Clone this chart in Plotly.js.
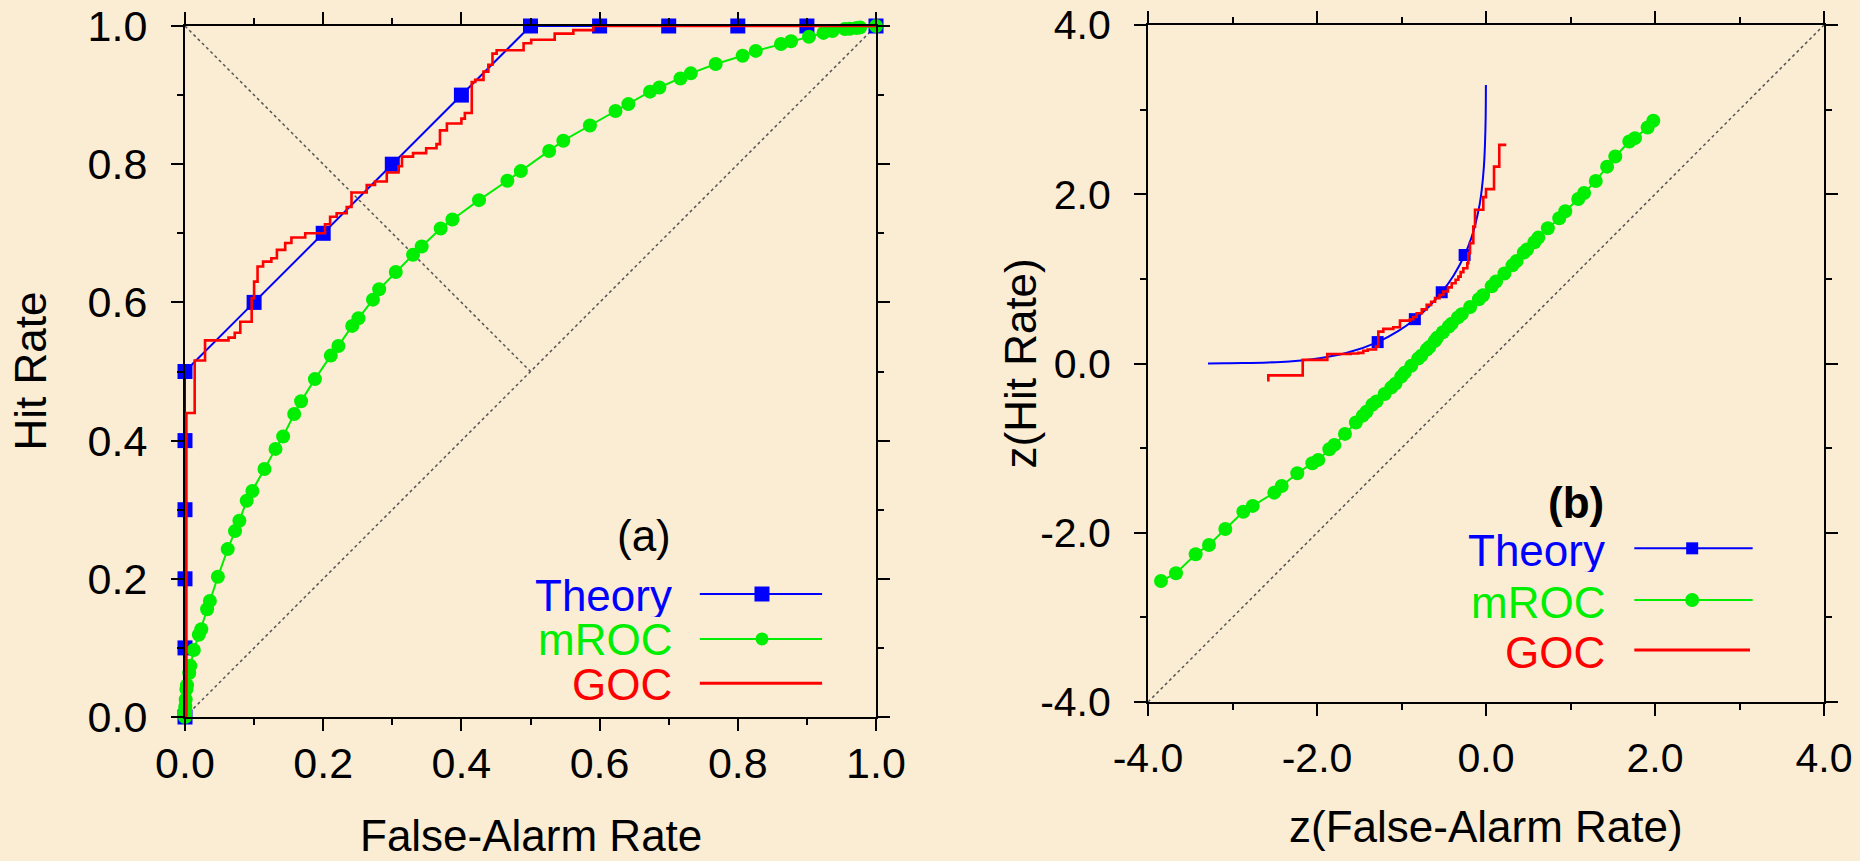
<!DOCTYPE html>
<html>
<head>
<meta charset="utf-8">
<script src="https://cdn.plot.ly/plotly-3.0.1.min.js"></script>
<style>
  html, body { margin: 0; padding: 0; background: #FBEDD3; }
  #chart { width: 1860px; height: 861px; }
</style>
</head>
<body>
<div id="chart"></div>
<script>
// ---------- Panel (a): ROC space ----------
const theoryFA  = [0, 0, 0, 0, 0, 0, 0.1, 0.2, 0.3, 0.4, 0.5, 0.6, 0.7, 0.8, 0.9, 1.0];
const theoryHit = [0, 0.1, 0.2, 0.3, 0.4, 0.5, 0.6, 0.7, 0.8, 0.9, 1.0, 1.0, 1.0, 1.0, 1.0, 1.0];

const mrocFA = [0, 0.00006, 0.00012, 0.0003, 0.0005, 0.001, 0.002, 0.0029, 0.0061, 0.0078, 0.0128,
  0.020, 0.0236, 0.032, 0.036, 0.0476, 0.0618, 0.0724, 0.0787, 0.0893, 0.0975, 0.115, 0.131, 0.142,
  0.158, 0.168, 0.188, 0.211, 0.222, 0.242, 0.251, 0.272, 0.281, 0.305, 0.330, 0.3425, 0.370, 0.387,
  0.4255, 0.4665, 0.486, 0.527, 0.5475, 0.586, 0.623, 0.6416, 0.673, 0.6865, 0.717, 0.732, 0.768,
  0.807, 0.826, 0.8625, 0.877, 0.903, 0.924, 0.937, 0.955, 0.962, 0.972, 0.977, 1.0];
const mrocHit = [0, 0.0051, 0.0066, 0.0121, 0.016, 0.0253, 0.040, 0.046, 0.0635, 0.074, 0.097,
  0.119, 0.127, 0.156, 0.168, 0.203, 0.243, 0.269, 0.284, 0.313, 0.327, 0.359, 0.388, 0.406,
  0.4385, 0.457, 0.489, 0.523, 0.537, 0.566, 0.577, 0.604, 0.619, 0.644, 0.669, 0.681, 0.707, 0.720,
  0.748, 0.776, 0.790, 0.819, 0.834, 0.856, 0.877, 0.887, 0.905, 0.911, 0.924, 0.9315, 0.945,
  0.957, 0.964, 0.974, 0.978, 0.9845, 0.990, 0.9928, 0.9956, 0.996, 0.997, 0.998, 1.0];

const gocFA = [0, 0.002, 0.014, 0.029, 0.063, 0.072, 0.080, 0.0965, 0.100, 0.105, 0.113, 0.125, 0.133,
  0.145, 0.154, 0.174, 0.2026, 0.210, 0.2195, 0.234, 0.241, 0.263, 0.275, 0.292, 0.309, 0.314, 0.330,
  0.349, 0.364, 0.369, 0.379, 0.400, 0.405, 0.415, 0.420, 0.432, 0.439, 0.445, 0.451, 0.490, 0.501,
  0.535, 0.562, 0.591, 1.0];
const gocHit = [0, 0.44, 0.516, 0.545, 0.549, 0.556, 0.572, 0.606, 0.630, 0.652, 0.659, 0.664, 0.676,
  0.686, 0.694, 0.700, 0.713, 0.724, 0.729, 0.738, 0.759, 0.770, 0.775, 0.788, 0.797, 0.811, 0.816,
  0.823, 0.829, 0.849, 0.859, 0.866, 0.874, 0.919, 0.922, 0.934, 0.944, 0.960, 0.965, 0.975, 0.980,
  0.989, 0.994, 1.0, 1.0];

// ---------- Panel (b): z space ----------
const zTheoryFA  = [-3.29, -3.09, -2.878, -2.576, -2.326, -2.054, -1.645, -1.282, -1.036, -0.842, -0.674,
  -0.524, -0.385, -0.253, -0.176, -0.126, -0.075, -0.050, -0.025, -0.0125, -0.004, -0.00125];
const zTheoryHit = [0.00125, 0.0025, 0.005, 0.0125, 0.025, 0.050, 0.126, 0.253, 0.385, 0.524, 0.674,
  0.842, 1.036, 1.282, 1.476, 1.645, 1.881, 2.054, 2.326, 2.576, 2.90, 3.29];
const zTheoryPtFA  = [-1.282, -0.842, -0.524, -0.253];
const zTheoryPtHit = [0.253, 0.524, 0.842, 1.282];

const zMrocFA = [-3.846, -3.669, -3.436, -3.278, -3.085, -2.872, -2.761, -2.505, -2.418, -2.233, -2.055,
  -1.985, -1.854, -1.795, -1.669, -1.540, -1.458, -1.414, -1.345, -1.296, -1.200, -1.122, -1.071,
  -1.003, -0.962, -0.885, -0.803, -0.765, -0.700, -0.671, -0.607, -0.580, -0.510, -0.440, -0.406,
  -0.332, -0.287, -0.188, -0.084, -0.035, 0.068, 0.119, 0.218, 0.313, 0.362, 0.448, 0.486, 0.573,
  0.619, 0.732, 0.867, 0.938, 1.092, 1.161, 1.299, 1.433, 1.530, 1.696, 1.763, 1.913, 1.980];
const zMrocHit = [-2.570, -2.479, -2.254, -2.144, -1.955, -1.751, -1.683, -1.526, -1.447, -1.297, -1.178,
  -1.139, -1.013, -0.962, -0.832, -0.697, -0.616, -0.571, -0.487, -0.448, -0.361, -0.285, -0.238,
  -0.155, -0.108, -0.028, 0.058, 0.093, 0.166, 0.194, 0.264, 0.303, 0.369, 0.437, 0.471,
  0.545, 0.583, 0.668, 0.759, 0.806, 0.912, 0.970, 1.063, 1.160, 1.211, 1.311, 1.347, 1.433,
  1.488, 1.598, 1.717, 1.799, 1.943, 2.014, 2.157, 2.326, 2.446, 2.623, 2.663, 2.789, 2.868];

const zGocFA = [-2.576, -2.576, -2.169, -1.878, -1.60, -1.511, -1.452, -1.40, -1.302, -1.274, -1.215,
  -1.097, -1.018, -0.90, -0.86, -0.82, -0.76, -0.702, -0.65, -0.603, -0.55, -0.505, -0.45, -0.406,
  -0.36, -0.327, -0.30, -0.268, -0.221, -0.209, -0.189, -0.15, -0.13, -0.032, 0.0, 0.095, 0.157, 0.24];
const zGocHit = [-0.214, -0.140, 0.043, 0.113, 0.118, 0.126, 0.150, 0.165, 0.200, 0.377, 0.409,
  0.429, 0.507, 0.523, 0.55, 0.594, 0.64, 0.693, 0.73, 0.772, 0.81, 0.85, 0.90, 0.948,
  0.99, 1.027, 1.08, 1.126, 1.185, 1.303, 1.422, 1.618, 1.816, 1.966, 2.06, 2.327, 2.584, 2.584];

// ---------- Ticks and labels ----------
const rocTickVals = [0, 0.2, 0.4, 0.6, 0.8, 1.0];
const rocTickText = ['0.0', '0.2', '0.4', '0.6', '0.8', '1.0'];
const rocMinorVals = [0.1, 0.3, 0.5, 0.7, 0.9];
const zTickVals = [-4, -2, 0, 2, 4];
const zTickText = ['-4.0', '-2.0', '0.0', '2.0', '4.0'];
const zMinorVals = [-3, -1, 1, 3];
const seriesNames = ['Theory', 'mROC', 'GOC'];
const panelLabels = ['(a)', '(b)'];
const axisTitles = {ax: 'False-Alarm Rate', ay: 'Hit Rate', bx: 'z(False-Alarm Rate)', by: 'z(Hit Rate)'};

const BLUE = '#0000FF', GREEN = '#00EE00', RED = '#FF0000';
const FONT = 'Liberation Sans, Arial, sans-serif';
const W = 1860, H = 861;
const TXT = 44;

const traces = [
  {x: theoryFA, y: theoryHit, xaxis: 'x', yaxis: 'y', mode: 'lines+markers', cliponaxis: false,
   line: {color: BLUE, width: 2}, marker: {symbol: 'square', size: 15, color: BLUE}},
  {x: mrocFA, y: mrocHit, xaxis: 'x', yaxis: 'y', mode: 'lines+markers', cliponaxis: false,
   line: {color: GREEN, width: 2}, marker: {symbol: 'circle', size: 14, color: GREEN}},
  {x: gocFA, y: gocHit, xaxis: 'x', yaxis: 'y', mode: 'lines', cliponaxis: false,
   line: {color: RED, width: 2.6, shape: 'hv'}},

  {x: zTheoryFA, y: zTheoryHit, xaxis: 'x2', yaxis: 'y2', mode: 'lines', cliponaxis: false,
   line: {color: BLUE, width: 2, shape: 'spline'}},
  {x: zTheoryPtFA, y: zTheoryPtHit, xaxis: 'x2', yaxis: 'y2', mode: 'markers', cliponaxis: false,
   marker: {symbol: 'square', size: 12, color: BLUE}},
  {x: zMrocFA, y: zMrocHit, xaxis: 'x2', yaxis: 'y2', mode: 'lines+markers', cliponaxis: false,
   line: {color: GREEN, width: 2}, marker: {symbol: 'circle', size: 14, color: GREEN}},
  {x: zGocFA, y: zGocHit, xaxis: 'x2', yaxis: 'y2', mode: 'lines', cliponaxis: false,
   line: {color: RED, width: 2.6, shape: 'hv'}}
];

function axis(domain, range, tv, tt, mv, fsize, anchor, standoff) {
  return {
    domain: domain, range: range, anchor: anchor, fixedrange: true,
    showline: true, linewidth: 2, linecolor: 'black', mirror: 'allticks',
    ticks: 'outside', ticklen: 12, tickwidth: 2, tickcolor: 'black',
    tickmode: 'array', tickvals: tv, ticktext: tt, ticklabelstandoff: standoff,
    tickfont: {family: FONT, size: fsize, color: 'black'},
    showgrid: false, zeroline: false,
    minor: {tickmode: 'array', tickvals: mv, ticks: 'outside', ticklen: 6, tickwidth: 2,
            tickcolor: 'black', showgrid: false}
  };
}

const layout = {
  width: W, height: H,
  margin: {l: 0, r: 0, t: 0, b: 0, pad: 0},
  paper_bgcolor: '#FBEDD3', plot_bgcolor: '#FBEDD3',
  showlegend: false,
  xaxis:  axis([185 / W, 876 / W], [0, 1], rocTickVals, rocTickText, rocMinorVals, 43, 'y', -5),
  yaxis:  axis([1 - 717 / H, 1 - 26 / H], [0, 1], rocTickVals, rocTickText, rocMinorVals, 43, 'x', 15),
  xaxis2: axis([1148 / W, 1824 / W], [-4, 4], zTickVals, zTickText, zMinorVals, 41, 'y2', 7),
  yaxis2: axis([1 - 702 / H, 1 - 25 / H], [-4, 4], zTickVals, zTickText, zMinorVals, 41, 'x2', 15),
  shapes: [
    {type: 'line', xref: 'x', yref: 'y', x0: 0, y0: 0, x1: 1, y1: 1, layer: 'below',
     line: {color: '#555', width: 1.5, dash: 'dot'}},
    {type: 'line', xref: 'x', yref: 'y', x0: 0, y0: 1, x1: 0.5, y1: 0.5, layer: 'below',
     line: {color: '#555', width: 1.5, dash: 'dot'}},
    {type: 'line', xref: 'x2', yref: 'y2', x0: -4, y0: -4, x1: 4, y1: 4, layer: 'below',
     line: {color: '#555', width: 1.5, dash: 'dot'}}
  ],
  annotations: []
};

// Axis titles
layout.annotations.push(
  {text: axisTitles.ax, xref: 'x', yref: 'paper', x: 0.5, y: 0, showarrow: false, borderpad: 0,
   xanchor: 'center', yanchor: 'bottom', font: {family: FONT, size: TXT, color: 'black'}},
  {text: axisTitles.ay, xref: 'paper', yref: 'y', x: 30 / W, y: 0.5, showarrow: false, textangle: -90,
   xanchor: 'center', yanchor: 'middle', font: {family: FONT, size: TXT, color: 'black'}},
  {text: axisTitles.bx, xref: 'x2', yref: 'paper', x: 0, y: 1 - 826 / H, showarrow: false, borderpad: 0,
   xanchor: 'center', yanchor: 'middle', font: {family: FONT, size: TXT, color: 'black'}},
  {text: axisTitles.by, xref: 'paper', yref: 'y2', x: 1020 / W, y: 0, showarrow: false, textangle: -90,
   xanchor: 'center', yanchor: 'middle', font: {family: FONT, size: TXT, color: 'black'}}
);

// Legends (drawn as shapes + text inside each panel)
function addLegend(xr, yr, idx, textX, labelY, rows, x0, x1, xm, msq, mci, bold) {
  const colors = [BLUE, GREEN, RED];
  layout.annotations.push({text: bold ? '<b>' + panelLabels[idx] + '</b>' : panelLabels[idx],
    xref: xr, yref: yr, x: textX, y: labelY, showarrow: false, xanchor: 'right', yanchor: 'middle',
    font: {family: FONT, size: TXT, color: 'black'}});
  rows.forEach((r, i) => {
    layout.annotations.push({text: seriesNames[i], xref: xr, yref: yr, x: textX, y: r.t, showarrow: false,
      xanchor: 'right', yanchor: 'middle', height: 44, borderpad: 0, valign: 'middle',
      font: {family: FONT, size: TXT, color: colors[i]}});
    layout.shapes.push({type: 'line', xref: xr, yref: yr, x0: x0, x1: r.x1 || x1, y0: r.l, y1: r.l,
      line: {color: colors[i], width: i === 2 ? 3 : 2}});
  });
  layout.shapes.push({type: 'rect', xref: xr, yref: yr, xsizemode: 'pixel', ysizemode: 'pixel',
    xanchor: xm, yanchor: rows[0].l, x0: -msq / 2, x1: msq / 2, y0: -msq / 2, y1: msq / 2,
    fillcolor: BLUE, line: {width: 0}});
  layout.shapes.push({type: 'circle', xref: xr, yref: yr, xsizemode: 'pixel', ysizemode: 'pixel',
    xanchor: xm, yanchor: rows[1].l, x0: -mci / 2, x1: mci / 2, y0: -mci / 2, y1: mci / 2,
    fillcolor: GREEN, line: {width: 0}});
}
addLegend('x', 'y', 0, 0.706, 0.263,
  [{t: 0.177, l: 0.178}, {t: 0.113, l: 0.113}, {t: 0.048, l: 0.0488}],
  0.745, 0.922, 0.835, 15, 13, false);
addLegend('x2', 'y2', 1, 1.42, -1.637,
  [{t: -2.204, l: -2.184}, {t: -2.818, l: -2.795}, {t: -3.41, l: -3.386, x1: 3.124}],
  1.755, 3.156, 2.44, 12, 14, true);

Plotly.newPlot('chart', traces, layout, {staticPlot: true, displayModeBar: false});
</script>
</body>
</html>
